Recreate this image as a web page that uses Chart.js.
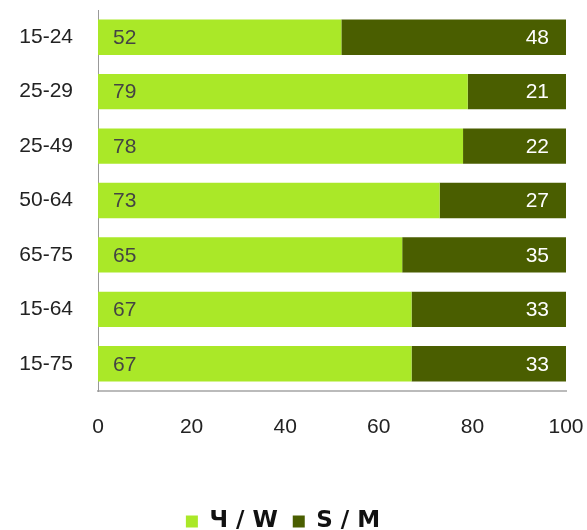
<!DOCTYPE html>
<html><head><meta charset="utf-8">
<script src="https://cdn.jsdelivr.net/npm/chart.js@4/dist/chart.umd.min.js"></script>
<style>html,body{margin:0;padding:0;background:#fff}#wrap{width:587px;height:530px}</style>
</head><body><div id="wrap"><canvas id="c" width="587" height="530"></canvas></div>
<script>
const categories = ["15-24","25-29","25-49","50-64","65-75","15-64","15-75"];
const womenValues = [52,79,78,73,65,67,67];
const menValues = [48,21,22,27,35,33,33];
const seriesNames = ["Ч / W","S / M"];
const xTicks = [0,20,40,60,80,100];

const FONT = "'Liberation Sans', Arial, sans-serif";

const labelPlugin = {
  id: 'barLabels',
  afterDatasetsDraw(chart) {
    const ctx = chart.ctx;
    ctx.save();
    ctx.font = "21px " + FONT;
    ctx.textBaseline = 'middle';
    chart.data.datasets.forEach((ds, di) => {
      const meta = chart.getDatasetMeta(di);
      meta.data.forEach((bar, i) => {
        const v = ds.data[i];
        if (di === 0) {
          ctx.fillStyle = '#444';
          ctx.textAlign = 'left';
          ctx.fillText(String(v), bar.base + 15, bar.y + 1);
        } else {
          ctx.fillStyle = '#fff';
          ctx.textAlign = 'right';
          ctx.fillText(String(v), bar.x - 17, bar.y + 1);
        }
      });
    });
    ctx.restore();
  }
};

new Chart(document.getElementById('c'), {
  type: 'bar',
  data: {
    labels: categories,
    datasets: [
      { label: seriesNames[0], data: womenValues, backgroundColor: '#AAE828', borderWidth: 0, categoryPercentage: 1, barPercentage: 0.65 },
      { label: seriesNames[1], data: menValues, backgroundColor: '#4A5E00', borderWidth: 0, categoryPercentage: 1, barPercentage: 0.65 }
    ]
  },
  options: {
    indexAxis: 'y',
    responsive: false,
    animation: false,
    layout: { padding: { top: 10, right: 21, left: 0, bottom: -13 } },
    plugins: {
      legend: {
        position: 'bottom',
        labels: { font: { family: "'DejaVu Sans', sans-serif", size: 23, weight: 'bold' }, color: '#111', boxWidth: 12, boxHeight: 12, padding: 15 }
      },
      tooltip: { enabled: false }
    },
    scales: {
      x: {
        stacked: true, min: 0, max: 100,
        afterBuildTicks(s) { s.ticks = xTicks.map(v => ({ value: v })); },
        grid: { display: false, drawTicks: false },
        border: { display: true, color: '#bbb', width: 2 },
        ticks: { font: { family: FONT, size: 21 }, color: '#222', padding: 24 },
        afterFit(s) { s.height = 104; s.paddingLeft = 0; s.paddingRight = 0; }
      },
      y: {
        stacked: true,
        grid: { display: false, drawTicks: false },
        border: { display: true, color: '#999', width: 1 },
        ticks: { font: { family: FONT, size: 21 }, color: '#222', padding: 25 },
        afterFit(s) { s.width = 98; s.paddingTop = 0; s.paddingBottom = 0; }
      }
    }
  },
  plugins: [labelPlugin]
});
</script></body></html>
